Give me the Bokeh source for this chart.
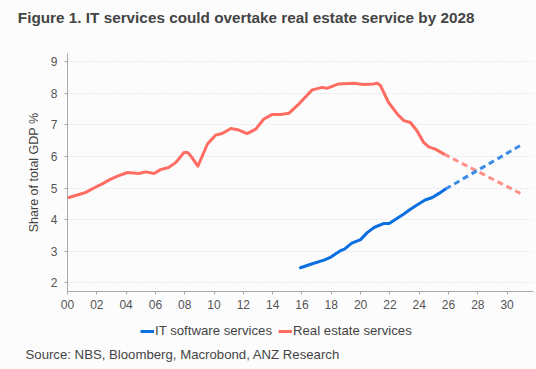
from bokeh.plotting import figure
from bokeh.layouts import column, row
from bokeh.models import Range1d, FixedTicker, Label, Legend, LegendItem
from bokeh.embed import file_html
from bokeh.resources import INLINE

# ---- data ----
re_years = [2000.1, 2000.9, 2001.25, 2001.8, 2002.4, 2002.95, 2003.5, 2004.1, 2004.85,
            2005.35, 2005.9, 2006.35, 2006.9, 2007.4, 2007.95, 2008.2, 2008.4, 2008.9,
            2009.55, 2010.1, 2010.55, 2011.15, 2011.7, 2012.25, 2012.85, 2013.4, 2013.95,
            2014.55, 2015.1, 2015.8, 2016.7, 2017.4, 2017.7, 2018.5, 2019.55, 2020.2,
            2020.9, 2021.15, 2021.35, 2021.9, 2022.5, 2022.95, 2023.4, 2023.85, 2024.3,
            2024.65, 2025.1, 2025.7]
re_vals = [4.70, 4.81, 4.86, 5.00, 5.14, 5.28, 5.39, 5.49, 5.46,
           5.51, 5.46, 5.58, 5.65, 5.81, 6.12, 6.12, 6.02, 5.69,
           6.39, 6.67, 6.72, 6.88, 6.83, 6.72, 6.86, 7.18, 7.32,
           7.32, 7.36, 7.66, 8.10, 8.18, 8.15, 8.29, 8.31, 8.27,
           8.29, 8.31, 8.24, 7.71, 7.34, 7.13, 7.07, 6.81, 6.44,
           6.30, 6.23, 6.07]
re_fc_years = [2025.7, 2030.9]
re_fc_vals = [6.07, 4.83]

it_years = [2015.9, 2016.6, 2017.5, 2017.9, 2018.6, 2018.9, 2019.4, 2020.0, 2020.45,
            2020.95, 2021.6, 2021.95, 2022.45, 2022.95, 2023.4, 2023.85, 2024.4, 2024.9,
            2025.35, 2025.8]
it_vals = [2.48, 2.59, 2.72, 2.80, 3.01, 3.07, 3.26, 3.37, 3.59,
           3.76, 3.88, 3.88, 4.03, 4.18, 4.33, 4.46, 4.62, 4.70,
           4.83, 4.97]
it_fc_years = [2025.8, 2030.9]
it_fc_vals = [4.97, 6.34]

x_ticks = [2000, 2002, 2004, 2006, 2008, 2010, 2012, 2014, 2016, 2018, 2020, 2022, 2024, 2026, 2028, 2030]
x_tick_labels = ["00", "02", "04", "06", "08", "10", "12", "14", "16", "18", "20", "22", "24", "26", "28", "30"]
y_ticks = [2, 3, 4, 5, 6, 7, 8, 9]

title_text = "Figure 1. IT services could overtake real estate service by 2028"
source_text = "Source: NBS, Bloomberg, Macrobond, ANZ Research"
y_label = "Share of total GDP %"
it_name = "IT software services"
re_name = "Real estate services"

FONT = "Liberation Sans"
BG = "#fcfcfc"
BLUE = "#0b6fe0"
BLUE_FC = "#3d8de6"
RED = "#ff6c62"
RED_FC = "#ff8f87"
W = 536


def blank(h):
    f = figure(width=W, height=h, output_backend="svg", toolbar_location=None,
               x_range=Range1d(0, W), y_range=Range1d(0, h),
               x_axis_type=None, y_axis_type=None,
               min_border=0, min_border_left=0, min_border_right=0,
               min_border_top=0, min_border_bottom=0,
               background_fill_color=BG, border_fill_color=BG,
               outline_line_color=None)
    f.grid.visible = False
    return f


# ---- title strip ----
top = blank(45)
top.add_layout(Label(x=17.3, y=28.5, x_units="screen", y_units="screen", text=title_text,
                     text_font=FONT, text_font_size="15.3px", text_font_style="bold",
                     text_color="#444444", text_baseline="alphabetic"))

# ---- main chart ----
p = figure(width=W, height=270, output_backend="svg", toolbar_location=None,
           x_range=Range1d(2000, 2031.8), y_range=Range1d(1.73, 9.25),
           min_border_left=67, min_border_right=3, min_border_top=8, min_border_bottom=24,
           background_fill_color=BG, border_fill_color=BG, outline_line_color=None)

p.line(re_years, re_vals, line_color=RED, line_width=3, line_join="round", line_cap="round")
p.line(re_fc_years, re_fc_vals, line_color=RED_FC, line_width=3, line_dash="6 4")
p.line(it_years, it_vals, line_color=BLUE, line_width=3, line_join="round", line_cap="round")
p.line(it_fc_years, it_fc_vals, line_color=BLUE_FC, line_width=3, line_dash="6 4")

p.xaxis.ticker = FixedTicker(ticks=x_ticks)
p.xaxis.major_label_overrides = {t: l for t, l in zip(x_ticks, x_tick_labels)}
p.yaxis.ticker = FixedTicker(ticks=y_ticks)
for ax in (p.xaxis[0], p.yaxis[0]):
    ax.axis_line_color = "#a8a8a8"
    ax.major_tick_line_color = "#a8a8a8"
    ax.major_tick_in = 0
    ax.major_tick_out = 3
    ax.minor_tick_line_color = None
    ax.major_label_text_font = FONT
    ax.major_label_text_font_size = "12px"
    ax.major_label_text_color = "#555555"
p.xaxis.major_label_standoff = 5
p.yaxis.major_label_standoff = 7
p.yaxis.axis_label = y_label
p.yaxis.axis_label_text_font = FONT
p.yaxis.axis_label_text_font_size = "12.5px"
p.yaxis.axis_label_text_font_style = "normal"
p.yaxis.axis_label_text_color = "#444444"
p.yaxis.axis_label_standoff = 7

p.xgrid.grid_line_color = None
p.ygrid.grid_line_color = "#d5dbe2"
p.ygrid.grid_line_dash = "1 2"
p.ygrid.grid_line_width = 1

# ---- legend + source strip ----
bot = blank(54)
# legend key renderers, placed outside the visible range of this strip
r_it = bot.line([-20, -10], [-20, -20], line_color=BLUE, line_width=3)
r_re = bot.line([-20, -10], [-20, -20], line_color=RED, line_width=3)
legend = Legend(items=[LegendItem(label=it_name, renderers=[r_it]),
                       LegendItem(label=re_name, renderers=[r_re])],
                orientation="horizontal", location=(140, 31),
                label_text_font=FONT, label_text_font_size="13.2px", label_text_color="#444444",
                glyph_width=14, glyph_height=8, label_standoff=1, spacing=6,
                padding=0, margin=0, background_fill_alpha=0, border_line_color=None)
bot.add_layout(legend, "center")
bot.add_layout(Label(x=25, y=15.5, x_units="screen", y_units="screen", text=source_text,
                     text_font=FONT, text_font_size="13.2px",
                     text_color="#444444", text_baseline="alphabetic"))

layout = column(row(top), row(p), row(bot), spacing=0)
open("out.html", "w").write(file_html(layout, INLINE))
